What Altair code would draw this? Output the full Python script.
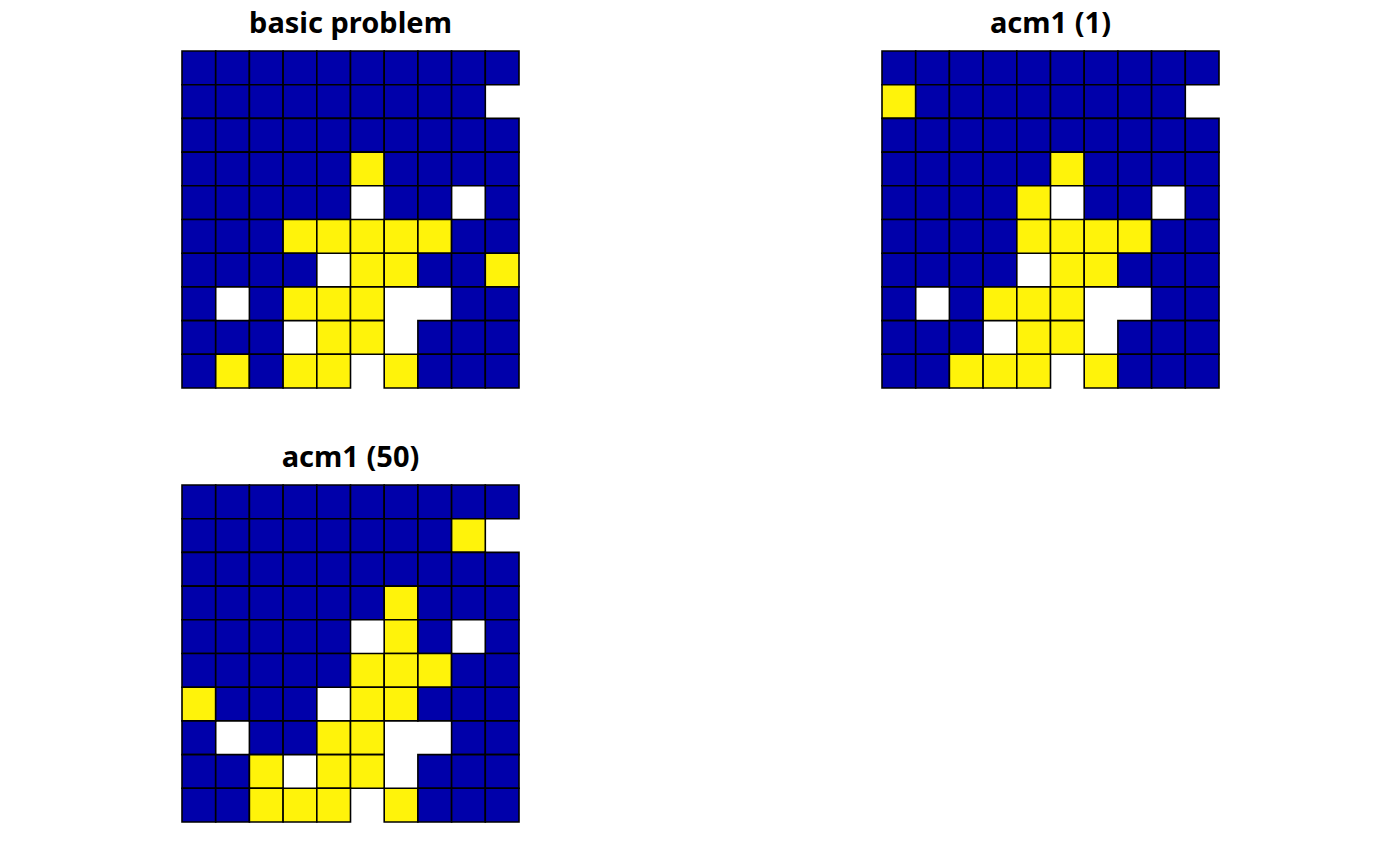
import altair as alt
import pandas as pd

# 0 = not selected (blue), 1 = selected (yellow), None = missing (not drawn)
N = None
basic_problem = [
    [0, 0, 0, 0, 0, 0, 0, 0, 0, 0],
    [0, 0, 0, 0, 0, 0, 0, 0, 0, N],
    [0, 0, 0, 0, 0, 0, 0, 0, 0, 0],
    [0, 0, 0, 0, 0, 1, 0, 0, 0, 0],
    [0, 0, 0, 0, 0, N, 0, 0, N, 0],
    [0, 0, 0, 1, 1, 1, 1, 1, 0, 0],
    [0, 0, 0, 0, N, 1, 1, 0, 0, 1],
    [0, N, 0, 1, 1, 1, N, N, 0, 0],
    [0, 0, 0, N, 1, 1, N, 0, 0, 0],
    [0, 1, 0, 1, 1, N, 1, 0, 0, 0],
]
acm1_1 = [
    [0, 0, 0, 0, 0, 0, 0, 0, 0, 0],
    [1, 0, 0, 0, 0, 0, 0, 0, 0, N],
    [0, 0, 0, 0, 0, 0, 0, 0, 0, 0],
    [0, 0, 0, 0, 0, 1, 0, 0, 0, 0],
    [0, 0, 0, 0, 1, N, 0, 0, N, 0],
    [0, 0, 0, 0, 1, 1, 1, 1, 0, 0],
    [0, 0, 0, 0, N, 1, 1, 0, 0, 0],
    [0, N, 0, 1, 1, 1, N, N, 0, 0],
    [0, 0, 0, N, 1, 1, N, 0, 0, 0],
    [0, 0, 1, 1, 1, N, 1, 0, 0, 0],
]
acm1_50 = [
    [0, 0, 0, 0, 0, 0, 0, 0, 0, 0],
    [0, 0, 0, 0, 0, 0, 0, 0, 1, N],
    [0, 0, 0, 0, 0, 0, 0, 0, 0, 0],
    [0, 0, 0, 0, 0, 0, 1, 0, 0, 0],
    [0, 0, 0, 0, 0, N, 1, 0, N, 0],
    [0, 0, 0, 0, 0, 1, 1, 1, 0, 0],
    [1, 0, 0, 0, N, 1, 1, 0, 0, 0],
    [0, N, 0, 0, 1, 1, N, N, 0, 0],
    [0, 0, 1, N, 1, 1, N, 0, 0, 0],
    [0, 0, 1, 1, 1, N, 1, 0, 0, 0],
]
titles = ["basic problem", "acm1 (1)", "acm1 (50)"]
grids = [basic_problem, acm1_1, acm1_50]

colors = ["#0000AA", "#FFF30A"]


def to_frame(grid):
    rows = []
    nrow = len(grid)
    for r, row in enumerate(grid):
        for c, v in enumerate(row):
            if v is None:
                continue
            rows.append({"x0": c, "x1": c + 1,
                         "y0": nrow - r - 1, "y1": nrow - r, "value": v})
    return pd.DataFrame(rows)


def panel(grid, title):
    df = to_frame(grid)
    return alt.Chart(df).mark_rect(stroke="black", strokeWidth=1.6).encode(
        x=alt.X("x0:Q", scale=alt.Scale(domain=[0, 10], nice=False, zero=False), axis=None),
        x2="x1:Q",
        y=alt.Y("y0:Q", scale=alt.Scale(domain=[0, 10], nice=False, zero=False), axis=None),
        y2="y1:Q",
        color=alt.Color("value:N", scale=alt.Scale(domain=[0, 1], range=colors), legend=None),
    ).properties(
        width=337, height=337,
        title=alt.TitleParams(title, fontSize=29, fontWeight="bold", font="Noto Sans",
                              color="black", offset=11),
    )


charts = [panel(g, t) for g, t in zip(grids, titles)]

chart = alt.concat(*charts, columns=2,
                   spacing=alt.RowColnumber(column=361, row=55)).properties(
    padding={"left": 173, "top": 2, "right": 0, "bottom": 0}
).configure_view(stroke=None)

chart.save("out.html", embed_options={"renderer": "svg", "actions": False})
